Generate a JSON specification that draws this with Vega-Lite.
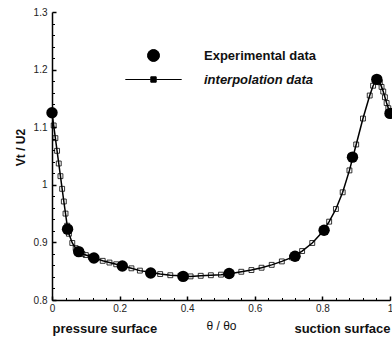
{
  "$schema": "https://vega.github.io/schema/vega-lite/v6.json",
  "width": 338,
  "height": 288,
  "autosize": {"type": "none"},
  "padding": {"left": 52, "top": 12, "right": 2, "bottom": 38},
  "background": "white",
  "config": {
    "view": {"stroke": null},
    "font": "Liberation Sans",
    "axis": {"grid": false, "labelFont": "Liberation Sans", "titleFont": "Liberation Sans", "labelOverlap": false, "labelFlush": false, "labelBound": false}
  },
  "datasets": {
    "interp": [
      {"theta": 0, "vt": 1.125, "series": "interpolation data"},
      {"theta": 0.005, "vt": 1.103, "series": "interpolation data"},
      {"theta": 0.01, "vt": 1.081, "series": "interpolation data"},
      {"theta": 0.015, "vt": 1.059, "series": "interpolation data"},
      {"theta": 0.02, "vt": 1.037, "series": "interpolation data"},
      {"theta": 0.025, "vt": 1.015, "series": "interpolation data"},
      {"theta": 0.03, "vt": 0.993, "series": "interpolation data"},
      {"theta": 0.035, "vt": 0.971, "series": "interpolation data"},
      {"theta": 0.04, "vt": 0.95, "series": "interpolation data"},
      {"theta": 0.045, "vt": 0.929, "series": "interpolation data"},
      {"theta": 0.05, "vt": 0.915, "series": "interpolation data"},
      {"theta": 0.06, "vt": 0.899, "series": "interpolation data"},
      {"theta": 0.07, "vt": 0.89, "series": "interpolation data"},
      {"theta": 0.08, "vt": 0.884, "series": "interpolation data"},
      {"theta": 0.09, "vt": 0.88, "series": "interpolation data"},
      {"theta": 0.1, "vt": 0.878, "series": "interpolation data"},
      {"theta": 0.115, "vt": 0.875, "series": "interpolation data"},
      {"theta": 0.13, "vt": 0.872, "series": "interpolation data"},
      {"theta": 0.15, "vt": 0.868, "series": "interpolation data"},
      {"theta": 0.17, "vt": 0.865, "series": "interpolation data"},
      {"theta": 0.19, "vt": 0.862, "series": "interpolation data"},
      {"theta": 0.21, "vt": 0.859, "series": "interpolation data"},
      {"theta": 0.235, "vt": 0.855, "series": "interpolation data"},
      {"theta": 0.26, "vt": 0.851, "series": "interpolation data"},
      {"theta": 0.29, "vt": 0.848, "series": "interpolation data"},
      {"theta": 0.32, "vt": 0.845, "series": "interpolation data"},
      {"theta": 0.35, "vt": 0.843, "series": "interpolation data"},
      {"theta": 0.38, "vt": 0.842, "series": "interpolation data"},
      {"theta": 0.41, "vt": 0.841, "series": "interpolation data"},
      {"theta": 0.44, "vt": 0.842, "series": "interpolation data"},
      {"theta": 0.47, "vt": 0.843, "series": "interpolation data"},
      {"theta": 0.5, "vt": 0.844, "series": "interpolation data"},
      {"theta": 0.53, "vt": 0.846, "series": "interpolation data"},
      {"theta": 0.56, "vt": 0.849, "series": "interpolation data"},
      {"theta": 0.59, "vt": 0.852, "series": "interpolation data"},
      {"theta": 0.62, "vt": 0.856, "series": "interpolation data"},
      {"theta": 0.65, "vt": 0.861, "series": "interpolation data"},
      {"theta": 0.68, "vt": 0.867, "series": "interpolation data"},
      {"theta": 0.71, "vt": 0.874, "series": "interpolation data"},
      {"theta": 0.74, "vt": 0.885, "series": "interpolation data"},
      {"theta": 0.77, "vt": 0.899, "series": "interpolation data"},
      {"theta": 0.8, "vt": 0.918, "series": "interpolation data"},
      {"theta": 0.82, "vt": 0.936, "series": "interpolation data"},
      {"theta": 0.84, "vt": 0.958, "series": "interpolation data"},
      {"theta": 0.86, "vt": 0.987, "series": "interpolation data"},
      {"theta": 0.88, "vt": 1.025, "series": "interpolation data"},
      {"theta": 0.9, "vt": 1.07, "series": "interpolation data"},
      {"theta": 0.92, "vt": 1.115, "series": "interpolation data"},
      {"theta": 0.94, "vt": 1.155, "series": "interpolation data"},
      {"theta": 0.95, "vt": 1.172, "series": "interpolation data"},
      {"theta": 0.96, "vt": 1.183, "series": "interpolation data"},
      {"theta": 0.965, "vt": 1.184, "series": "interpolation data"},
      {"theta": 0.97, "vt": 1.178, "series": "interpolation data"},
      {"theta": 0.975, "vt": 1.17, "series": "interpolation data"},
      {"theta": 0.98, "vt": 1.162, "series": "interpolation data"},
      {"theta": 0.985, "vt": 1.152, "series": "interpolation data"},
      {"theta": 0.99, "vt": 1.142, "series": "interpolation data"},
      {"theta": 0.995, "vt": 1.133, "series": "interpolation data"},
      {"theta": 1, "vt": 1.125, "series": "interpolation data"}
    ],
    "exp": [
      {"theta": 0, "vt": 1.125, "series": "Experimental data"},
      {"theta": 0.046, "vt": 0.923, "series": "Experimental data"},
      {"theta": 0.079, "vt": 0.884, "series": "Experimental data"},
      {"theta": 0.124, "vt": 0.873, "series": "Experimental data"},
      {"theta": 0.208, "vt": 0.859, "series": "Experimental data"},
      {"theta": 0.292, "vt": 0.847, "series": "Experimental data"},
      {"theta": 0.388, "vt": 0.841, "series": "Experimental data"},
      {"theta": 0.524, "vt": 0.846, "series": "Experimental data"},
      {"theta": 0.719, "vt": 0.876, "series": "Experimental data"},
      {"theta": 0.805, "vt": 0.921, "series": "Experimental data"},
      {"theta": 0.889, "vt": 1.048, "series": "Experimental data"},
      {"theta": 0.961, "vt": 1.183, "series": "Experimental data"},
      {"theta": 1, "vt": 1.124, "series": "Experimental data"}
    ]
  },
  "layer": [
    {
      "data": {"name": "interp"},
      "mark": {"type": "line", "color": "black", "strokeWidth": 1.5, "point": {"shape": "square", "filled": false, "size": 24, "strokeWidth": 0.8}},
      "encoding": {
        "x": {
          "field": "theta", "type": "quantitative",
          "scale": {"domain": [0, 1], "nice": false, "zero": false},
          "axis": {
            "orient": "bottom",
            "values": [0, 0.2, 0.4, 0.6, 0.8, 1],
            "format": "~g",
            "domainColor": "black", "domainWidth": 1.5,
            "tickColor": "black", "tickWidth": 1.5, "tickSize": -4,
            "labelPadding": 7, "labelFontSize": 10, "labelColor": "#222",
            "title": "θ / θo", "titleFontWeight": "normal", "titleFontSize": 12, "titlePadding": 7, "titleColor": "#111"
          }
        },
        "y": {
          "field": "vt", "type": "quantitative",
          "scale": {"domain": [0.8, 1.3], "nice": false, "zero": false},
          "axis": {
            "orient": "left",
            "values": [0.8, 0.9, 1, 1.1, 1.2, 1.3],
            "format": "~g",
            "domainColor": "black", "domainWidth": 1.5,
            "tickColor": "black", "tickWidth": 1.5, "tickSize": -4,
            "labelPadding": 9, "labelFontSize": 10, "labelColor": "#222",
            "title": "Vt / U2", "titleFontWeight": "bold", "titleFontSize": 12, "titlePadding": 6, "titleColor": "#111", "titleY": 135
          }
        },
        "color": {
          "field": "series", "type": "nominal",
          "scale": {"domain": ["Experimental data", "interpolation data"], "range": ["black", "black"]},
          "legend": {
            "title": null, "orient": "none", "legendX": 95, "legendY": 37, "padding": 0,
            "symbolSize": 144, "labelOffset": 44, "labelFontSize": 13, "labelFont": "Liberation Sans",
            "labelFontWeight": "bold", "labelColor": "#111", "rowPadding": 9,
            "encode": {
              "symbols": {"update": {
                "shape": {"signal": "datum.label === 'interpolation data' ? 'M-4.7,0H-0.45M0.45,0H4.7M-0.45,-0.45H0.45V0.45H-0.45Z' : 'circle'"},
                "fill": {"signal": "datum.label === 'interpolation data' ? 'transparent' : 'black'"},
                "stroke": {"value": "black"},
                "strokeWidth": {"value": 1},
                "opacity": {"value": 1}
              }},
              "labels": {"update": {
                "fontStyle": {"signal": "datum.label === 'interpolation data' ? 'italic' : 'normal'"}
              }}
            }
          }
        }
      }
    },
    {
      "data": {"name": "exp"},
      "mark": {"type": "point", "filled": true, "shape": "circle", "size": 130, "opacity": 1},
      "encoding": {
        "x": {
          "field": "theta", "type": "quantitative",
          "axis": {
            "orient": "bottom",
            "values": [0, 0.04, 0.08, 0.12, 0.16, 0.24, 0.28, 0.32, 0.36, 0.44, 0.48, 0.52, 0.56, 0.64, 0.68, 0.72, 0.76, 0.84, 0.88, 0.92, 0.96, 1],
            "domain": false,
            "tickColor": "black", "tickWidth": 1, "tickSize": -2.5,
            "labelExpr": "datum.value == 0 ? 'pressure surface' : datum.value == 1 ? 'suction surface' : ''",
            "labelFlush": true,
            "labelPadding": 25, "labelFontSize": 13, "labelFontWeight": "bold", "labelColor": "#111",
            "title": null
          }
        },
        "y": {
          "field": "vt", "type": "quantitative",
          "axis": {
            "orient": "left",
            "values": [0.82, 0.84, 0.86, 0.88, 0.92, 0.94, 0.96, 0.98, 1.02, 1.04, 1.06, 1.08, 1.12, 1.14, 1.16, 1.18, 1.22, 1.24, 1.26, 1.28],
            "domain": false,
            "tickColor": "black", "tickWidth": 1, "tickSize": -2.5,
            "labels": false,
            "title": null
          }
        },
        "color": {"field": "series", "type": "nominal"}
      }
    }
  ],
  "resolve": {"axis": {"x": "independent", "y": "independent"}}
}
